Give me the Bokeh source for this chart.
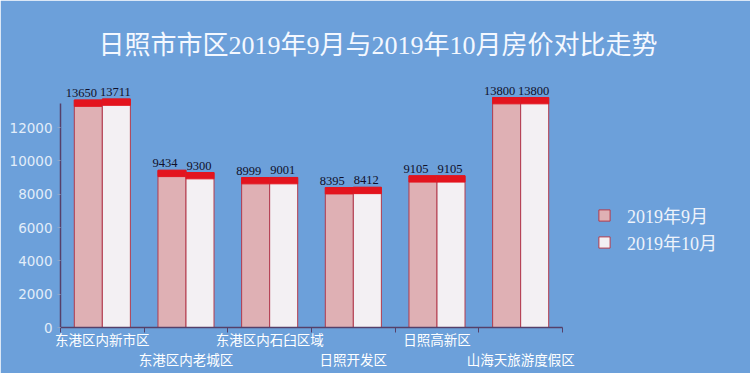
from bokeh.plotting import figure
from bokeh.models import Range1d, FixedTicker, ColumnDataSource, Legend, LegendItem
from bokeh.transform import dodge
from bokeh.core.properties import value
from bokeh.embed import file_html
from bokeh.resources import INLINE

# ---------------- data ----------------
chart_title = "日照市市区2019年9月与2019年10月房价对比走势"
districts = ["东港区内新市区", "东港区内老城区", "东港区内石臼区域",
             "日照开发区", "日照高新区", "山海天旅游度假区"]
sep_2019 = [13650, 9434, 8999, 8395, 9105, 13800]
oct_2019 = [13711, 9300, 9001, 8412, 9105, 13800]
series_names = ["2019年9月", "2019年10月"]
y_ticks = [0, 2000, 4000, 6000, 8000, 10000, 12000]

# ---------------- style ----------------
BG = "#6ca0da"
PINK = "#dfb0b4"
WHITE = "#f3f0f3"
RED = "#e3141e"
EDGE = "#b23a4c"
AXIS = "#55406a"
SERIF = "Liberation Serif, Noto Sans CJK SC"
CJK = "Noto Sans CJK SC"
BAR_W = 0.335
CAP = 380  # thickness of the red top band, in value units

n = len(districts)
src = ColumnDataSource(dict(
    x=[i + 0.5 for i in range(n)],
    sep=sep_2019,
    oct=oct_2019,
    sep_cap=[v - CAP for v in sep_2019],
    oct_cap=[v - CAP for v in oct_2019],
    sep_lbl=[str(v) for v in sep_2019],
    oct_lbl=[str(v) for v in oct_2019],
))

p = figure(frame_width=502, frame_height=250,
           x_range=Range1d(0, n), y_range=Range1d(0, 15000),
           output_backend="svg", toolbar_location=None,
           min_border_left=60, min_border_right=188,
           min_border_top=77, min_border_bottom=46,
           background_fill_color=BG, border_fill_color=BG,
           outline_line_color=BG, outline_line_width=2)
p.grid.visible = False

# title
p.title.text = chart_title
p.title.align = "left"
p.title.offset = 38
p.title.standoff = 36
p.title.text_font = SERIF
p.title.text_font_size = "26px"
p.title.text_font_style = "normal"
p.title.text_color = "#f4f8ff"

renderers = []
for key, col, shift, lx in (("sep", PINK, -BAR_W / 2, -7), ("oct", WHITE, BAR_W / 2, -1)):
    xs = dodge("x", shift, range=p.x_range)
    body = p.vbar(x=xs, top=key, bottom=0, width=BAR_W, source=src,
                  fill_color=col, line_color=EDGE, line_width=1)
    p.vbar(x=xs, top=key, bottom=key + "_cap", width=BAR_W, source=src,
           fill_color=RED, line_color=RED, line_width=1)
    p.text(x=xs, y=key, text=key + "_lbl", source=src,
           text_align="center", text_baseline="bottom", y_offset=-3, x_offset=lx,
           text_font=value("Liberation Serif"), text_font_size="12.5px",
           text_color="#10102a")
    band = p.line(x=[], y=[], line_color=RED, line_width=5)
    renderers.append([body, band])

# x axis
centers = [i + 0.5 for i in range(n)]
xa = p.xaxis[0]
xa.ticker = FixedTicker(ticks=centers, minor_ticks=list(range(n + 1)))
xa.major_label_overrides = {c: (d if i % 2 == 0 else "\n" + d)
                            for i, (c, d) in enumerate(zip(centers, districts))}
xa.major_tick_line_color = None
xa.major_tick_out = 0
xa.major_tick_in = 0
xa.minor_tick_out = 5
xa.minor_tick_in = 0
xa.minor_tick_line_color = AXIS
xa.axis_line_color = AXIS
xa.axis_line_width = 1.5
xa.major_label_standoff = -4
xa.major_label_text_font = CJK
xa.major_label_text_font_size = "13.5px"
xa.major_label_text_line_height = 1.0
xa.major_label_text_color = "#ffffff"

# y axis
ya = p.yaxis[0]
ya.ticker = FixedTicker(ticks=y_ticks, minor_ticks=[])
ya.bounds = (0, 13440)
ya.axis_line_color = AXIS
ya.axis_line_width = 1.5
ya.major_tick_line_color = "#8fa6c8"
ya.major_tick_out = 3
ya.major_tick_in = 0
ya.major_label_standoff = 5
ya.major_label_text_font = "DejaVu Sans"
ya.major_label_text_font_size = "13.5px"
ya.major_label_text_color = "#e2edf9"

legend = Legend(items=[LegendItem(label=series_names[i], renderers=renderers[i])
                       for i in range(2)],
                location=(35, 72), orientation="vertical",
                glyph_width=14, glyph_height=14, label_standoff=16,
                spacing=1, padding=0, margin=0,
                background_fill_alpha=0, border_line_color=None,
                label_text_font=SERIF, label_text_font_size="18px",
                label_text_color="#eef3fb")
p.add_layout(legend, "right")

open("out.html", "w").write(file_html(p, INLINE))
